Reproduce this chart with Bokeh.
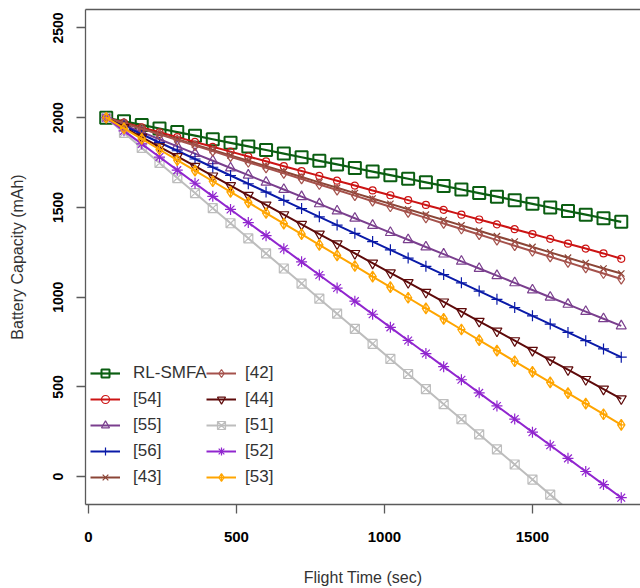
from bokeh.plotting import figure
from bokeh.models import Legend, LegendItem, LinearAxis, FixedTicker, Range1d
from bokeh.embed import file_html
from bokeh.resources import INLINE

# ---- data ----
flight_time = [60, 120, 180, 240, 300, 360, 420, 480, 540, 600,
               660, 720, 780, 840, 900, 960, 1020, 1080, 1140, 1200,
               1260, 1320, 1380, 1440, 1500, 1560, 1620, 1680, 1740, 1800]

rl_smfa = [2000, 1980, 1960, 1940, 1920, 1900, 1880, 1860, 1840, 1820,
           1800, 1780, 1760, 1740, 1720, 1700, 1680, 1660, 1640, 1620,
           1600, 1580, 1560, 1540, 1520, 1500, 1480, 1460, 1440, 1420]
ref54 = [2000, 1973, 1946, 1919, 1892, 1865, 1838, 1811, 1784, 1757,
         1730, 1703, 1676, 1649, 1622, 1595, 1568, 1541, 1514, 1487,
         1460, 1433, 1406, 1379, 1352, 1325, 1298, 1271, 1244, 1214]
ref55 = [2000, 1960, 1920, 1880, 1840, 1800, 1760, 1720, 1680, 1640,
         1600, 1560, 1520, 1480, 1440, 1400, 1360, 1320, 1280, 1240,
         1200, 1160, 1120, 1080, 1040, 1000, 960, 920, 880, 840]
ref56 = [2000, 1954, 1908, 1862, 1816, 1770, 1724, 1678, 1632, 1586,
         1540, 1494, 1448, 1402, 1356, 1310, 1264, 1218, 1172, 1126,
         1080, 1034, 988, 942, 896, 850, 804, 758, 712, 666]
ref43 = [2000, 1970, 1940, 1910, 1880, 1850, 1820, 1790, 1760, 1730,
         1700, 1670, 1640, 1610, 1580, 1550, 1520, 1490, 1460, 1430,
         1400, 1370, 1340, 1310, 1280, 1250, 1220, 1190, 1160, 1132]
ref42 = [2000, 1969, 1938, 1907, 1876, 1845, 1814, 1783, 1752, 1721,
         1690, 1659, 1628, 1597, 1566, 1535, 1504, 1473, 1442, 1411,
         1380, 1349, 1318, 1287, 1256, 1225, 1194, 1163, 1132, 1101]
ref44 = [2000, 1946, 1892, 1838, 1784, 1730, 1676, 1622, 1568, 1514,
         1460, 1406, 1352, 1298, 1244, 1190, 1136, 1082, 1028, 974,
         920, 866, 812, 758, 704, 650, 596, 542, 488, 434]
ref51 = [2000, 1916, 1832, 1748, 1664, 1580, 1496, 1412, 1328, 1244,
         1160, 1076, 992, 908, 824, 740, 656, 572, 488, 404,
         320, 236, 152, 68, -16, -100, -184, -268, -352, -436]
ref52 = [2000, 1927, 1854, 1781, 1708, 1635, 1562, 1489, 1416, 1343,
         1270, 1197, 1124, 1051, 978, 905, 832, 759, 686, 613,
         540, 467, 394, 321, 248, 175, 102, 29, -44, -117]
ref53 = [2000, 1941, 1882, 1823, 1764, 1705, 1646, 1587, 1528, 1469,
         1410, 1351, 1292, 1233, 1174, 1115, 1056, 997, 938, 879,
         820, 761, 702, 643, 584, 525, 466, 407, 348, 289]

series_names = ["RL-SMFA", "[54]", "[55]", "[56]", "[43]",
                "[42]", "[44]", "[51]", "[52]", "[53]"]
series_values = [rl_smfa, ref54, ref55, ref56, ref43,
                 ref42, ref44, ref51, ref52, ref53]
series_colors = ["#0B5E12", "#CC1414", "#7A3F8E", "#0A1AA8", "#8B4536",
                 "#A5524C", "#5E0A0A", "#BDBDBD", "#9126CF", "#FFA500"]
series_markers = ["square", "circle", "triangle", "cross", "x",
                  "diamond", "inverted_triangle", "square_x", "asterisk", "diamond_cross"]
series_sizes = [12, 7, 10, 11, 9, 10, 10, 9, 11, 11]

x_ticks = [0, 500, 1000, 1500]
y_ticks = [0, 500, 1000, 1500, 2000, 2500]

FONT = "Liberation Sans"
BOX = "#5a5a5a"

p = figure(width=640, height=588, output_backend="svg", toolbar_location=None,
           x_range=Range1d(-10, 1865), y_range=Range1d(-155, 2603),
           min_border_left=85, min_border_right=0, min_border_top=9, min_border_bottom=82)
p.outline_line_color = None
p.grid.visible = False
p.background_fill_color = "white"
p.border_fill_color = "white"

items = []
for name, ys, col, mk, sz in zip(series_names, series_values, series_colors,
                                 series_markers, series_sizes):
    lw = 2.2 if name == "RL-SMFA" else 2
    l = p.line(flight_time, ys, line_color=col, line_width=lw)
    s = p.scatter(flight_time, ys, marker=mk, size=sz, line_color=col,
                  fill_color=None, line_width=2 if name == "RL-SMFA" else 1.2)
    items.append(LegendItem(label=name, renderers=[l, s]))

# axes
xa = p.xaxis[0]
xa.ticker = FixedTicker(ticks=x_ticks)
xa.axis_label = "Flight Time (sec)"
ya = p.yaxis[0]
ya.ticker = FixedTicker(ticks=y_ticks)
ya.axis_label = "Battery Capacity (mAh)"
ya.major_label_orientation = "vertical"

for ax in (xa, ya):
    ax.axis_line_color = BOX
    ax.axis_line_width = 1.3
    ax.major_tick_line_color = BOX
    ax.major_tick_line_width = 1.3
    ax.major_tick_out = 9
    ax.major_tick_in = 0
    ax.minor_tick_line_color = None
    ax.major_label_text_font = FONT
    ax.major_label_text_font_style = "bold"
    ax.major_label_text_color = "black"
    ax.axis_label_text_font = FONT
    ax.axis_label_text_font_style = "normal"
    ax.axis_label_text_color = "#333333"
    ax.axis_label_text_font_size = "16px"

xa.major_label_text_font_size = "15px"
xa.major_label_standoff = 18
xa.axis_label_standoff = 24
ya.major_label_text_font_size = "14px"
ya.major_label_standoff = 13
ya.axis_label_standoff = 25

top = LinearAxis(ticker=FixedTicker(ticks=[]), axis_line_color=BOX, axis_line_width=1.3,
                 major_tick_line_color=None, minor_tick_line_color=None,
                 major_label_text_font_size="0px")
p.add_layout(top, "above")

def make_legend(its, loc, standoff):
    lg = Legend(items=its, location=loc, orientation="vertical")
    lg.border_line_color = None
    lg.background_fill_alpha = 0
    lg.padding = 0
    lg.margin = 0
    lg.spacing = 6
    lg.glyph_width = 30
    lg.glyph_height = 20
    lg.label_height = 20
    lg.label_standoff = standoff
    lg.label_text_font = FONT
    lg.label_text_font_size = "17px"
    lg.label_text_color = "#333333"
    return lg

p.add_layout(make_legend(items[:5], (5, 17), 13))
p.add_layout(make_legend(items[5:], (121, 17), 9))

open("out.html", "w").write(file_html(p, INLINE))
